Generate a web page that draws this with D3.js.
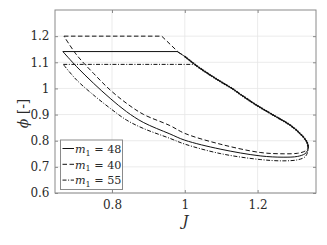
<!DOCTYPE html>
<html>
<head>
<meta charset="utf-8">
<script src="https://cdn.jsdelivr.net/npm/d3@7"></script>
<style>
  body { margin: 0; background: #fff; }
</style>
</head>
<body>
<div id="chart"></div>
<script>
// --- data ---
const legendValues = [48, 40, 55];
const xTicks = [0.8, 1, 1.2];
const yTicks = [0.6, 0.7, 0.8, 0.9, 1, 1.1, 1.2];

// shared upper branch (all three curves lie on it)
const upperJ   = [1.000, 1.019, 1.042, 1.088, 1.133, 1.152, 1.197, 1.243, 1.289, 1.316, 1.335, 1.339];
const upperPhi = [1.122, 1.101, 1.077, 1.035, 0.997, 0.978, 0.936, 0.898, 0.860, 0.828, 0.796, 0.775];

// m1 = 48 (solid)
const m48FlatJ   = [0.665, 0.979];
const m48FlatPhi = [1.141, 1.141];
const m48LowJ    = [0.665, 0.703, 0.749, 0.795, 0.840, 0.886, 0.959, 1.000, 1.097, 1.207, 1.270, 1.310, 1.330, 1.337];
const m48LowPhi  = [1.141, 1.083, 1.020, 0.962, 0.911, 0.870, 0.826, 0.802, 0.768, 0.742, 0.737, 0.740, 0.750, 0.762];

// m1 = 40 (dashed)
const m40FlatJ   = [0.668, 0.9365, 0.982];
const m40FlatPhi = [1.200, 1.200, 1.139];
const m40LowJ    = [0.668, 0.703, 0.749, 0.795, 0.840, 0.886, 0.959, 1.000, 1.097, 1.207, 1.270, 1.310, 1.330, 1.338];
const m40LowPhi  = [1.200, 1.128, 1.058, 0.994, 0.943, 0.901, 0.858, 0.828, 0.787, 0.755, 0.750, 0.752, 0.760, 0.770];

// m1 = 55 (dash-dot)
const m55FlatJ   = [0.666, 1.027];
const m55FlatPhi = [1.092, 1.092];
const m55LowJ    = [0.666, 0.703, 0.749, 0.795, 0.840, 0.886, 0.959, 1.000, 1.097, 1.207, 1.270, 1.310, 1.330, 1.337];
const m55LowPhi  = [1.092, 1.032, 0.975, 0.924, 0.879, 0.847, 0.809, 0.787, 0.751, 0.728, 0.723, 0.727, 0.738, 0.755];

// flat part is straight, the rest (shared branch + lower branch back) is smooth
function segments(flatJ, flatPhi, lowJ, lowPhi) {
    const flat = flatJ.map((j, i) => [j, flatPhi[i]]);
    const last = flat[flat.length - 1];
    const rest = [last];
    upperJ.forEach((j, i) => { if (j > last[0]) rest.push([j, upperPhi[i]]); });
    for (let i = lowJ.length - 1; i >= 0; i--) rest.push([lowJ[i], lowPhi[i]]);
    return { flat, rest };
}

const series = [
    Object.assign({ value: legendValues[0], dash: null },          segments(m48FlatJ, m48FlatPhi, m48LowJ, m48LowPhi)),
    Object.assign({ value: legendValues[1], dash: "4.5,2.5" },     segments(m40FlatJ, m40FlatPhi, m40LowJ, m40LowPhi)),
    Object.assign({ value: legendValues[2], dash: "4,1.6,1,1.6" }, segments(m55FlatJ, m55FlatPhi, m55LowJ, m55LowPhi))
];

// --- layout ---
const width = 327, height = 245;
const marginLeft = 55, marginRight = 11, marginTop = 10, marginBottom = 52;
const serif = "'DejaVu Serif', serif";
const textColor = "#2a2a2a";

const x = d3.scaleLinear()
    .domain([0.6434, 1.3604])
    .range([marginLeft, width - marginRight]);
const y = d3.scaleLinear()
    .domain([0.6, 1.3])
    .range([height - marginBottom, marginTop]);

const svg = d3.select("#chart").append("svg")
    .attr("width", width)
    .attr("height", height)
    .attr("viewBox", [0, 0, width, height]);

const axisColor = "#8a8a8a";
const gridColor = "#e6e6e6";

// grid
svg.append("g")
    .selectAll("line")
    .data(xTicks)
    .join("line")
    .attr("x1", d => x(d)).attr("x2", d => x(d))
    .attr("y1", marginTop).attr("y2", height - marginBottom)
    .attr("stroke", gridColor).attr("stroke-width", 0.8);
svg.append("g")
    .selectAll("line")
    .data(yTicks)
    .join("line")
    .attr("x1", marginLeft).attr("x2", width - marginRight)
    .attr("y1", d => y(d)).attr("y2", d => y(d))
    .attr("stroke", gridColor).attr("stroke-width", 0.8);

// curves
const straight = d3.line()
    .x(d => x(d[0]))
    .y(d => y(d[1]));
const smooth = d3.line()
    .x(d => x(d[0]))
    .y(d => y(d[1]))
    .curve(d3.curveCatmullRom.alpha(0.5));

// shared branch drawn a bit heavier, it carries all three overlapping curves
svg.append("path")
    .attr("d", smooth(upperJ.map((j, i) => [j, upperPhi[i]])))
    .attr("fill", "none")
    .attr("stroke", "#333")
    .attr("stroke-width", 1.9)
    .attr("stroke-dasharray", "1.6,0.9");

svg.append("g")
    .selectAll("path")
    .data(series)
    .join("path")
    .attr("d", d => straight(d.flat) + smooth(d.rest))
    .attr("fill", "none")
    .attr("stroke", "#111")
    .attr("stroke-width", 1)
    .attr("stroke-dasharray", d => d.dash);

// axes with inward ticks, box on
const tickLen = 3;
svg.append("g")
    .attr("transform", `translate(0,${height - marginBottom})`)
    .call(d3.axisBottom(x).tickValues(xTicks).tickSize(-tickLen).tickPadding(7.5).tickFormat(d3.format("")))
    .call(g => g.select(".domain").remove());
svg.append("g")
    .attr("transform", `translate(0,${marginTop})`)
    .call(d3.axisTop(x).tickValues(xTicks).tickSize(-tickLen).tickFormat(""))
    .call(g => g.select(".domain").remove());
svg.append("g")
    .attr("transform", `translate(${marginLeft},0)`)
    .call(d3.axisLeft(y).tickValues(yTicks).tickSize(-tickLen).tickPadding(5.5).tickFormat(d3.format("")))
    .call(g => g.select(".domain").remove());
svg.append("g")
    .attr("transform", `translate(${width - marginRight},0)`)
    .call(d3.axisRight(y).tickValues(yTicks).tickSize(-tickLen).tickFormat(""))
    .call(g => g.select(".domain").remove());

svg.selectAll(".tick line").attr("stroke", axisColor);
svg.selectAll(".tick text")
    .attr("fill", textColor)
    .attr("font-family", serif)
    .attr("font-size", 12);

svg.append("rect")
    .attr("x", marginLeft).attr("y", marginTop)
    .attr("width", width - marginLeft - marginRight)
    .attr("height", height - marginTop - marginBottom)
    .attr("fill", "none")
    .attr("stroke", axisColor)
    .attr("stroke-width", 1);

// axis labels
svg.append("text")
    .attr("x", (marginLeft + width - marginRight) / 2)
    .attr("y", 226)
    .attr("text-anchor", "middle")
    .attr("font-family", serif)
    .attr("font-size", 15)
    .attr("font-style", "italic")
    .attr("fill", textColor)
    .text("J");

const yl = svg.append("text")
    .attr("transform", `translate(28,${(marginTop + height - marginBottom) / 2 + 12}) rotate(-90)`)
    .attr("text-anchor", "middle")
    .attr("font-family", serif)
    .attr("font-size", 14)
    .attr("fill", textColor);
yl.append("tspan").attr("font-style", "italic").text("ϕ");
yl.append("tspan").text(" [-]");

// legend
const lgX = 60.5, lgY = 140, lgW = 62, lgH = 49.5;
const legend = svg.append("g");
legend.append("rect")
    .attr("x", lgX).attr("y", lgY)
    .attr("width", lgW).attr("height", lgH)
    .attr("fill", "#fff")
    .attr("stroke", axisColor)
    .attr("stroke-width", 1);

const rows = legend.selectAll("g.row")
    .data(series)
    .join("g")
    .attr("class", "row")
    .attr("transform", (d, i) => `translate(${lgX},${lgY + 8.5 + i * 15.8})`);

rows.append("line")
    .attr("x1", 2).attr("x2", 13.5)
    .attr("stroke", "#111")
    .attr("stroke-width", 1)
    .attr("stroke-dasharray", d => d.dash);

const lt = rows.append("text")
    .attr("x", 14.5)
    .attr("y", 4.3)
    .attr("font-family", serif)
    .attr("font-size", 11.2)
    .attr("fill", textColor);
lt.append("tspan").attr("font-style", "italic").text("m");
lt.append("tspan").attr("font-size", 8).attr("dy", 2.8).text("1");
lt.append("tspan").attr("dy", -2.8).text(d => ` = ${d.value}`);
</script>
</body>
</html>
